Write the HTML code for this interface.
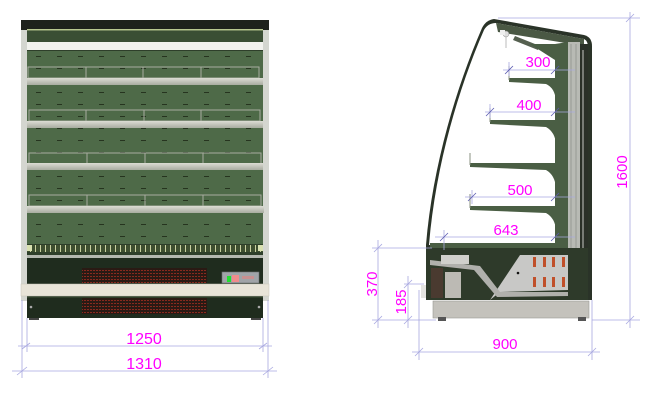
<!DOCTYPE html>
<html><head><meta charset="utf-8"><style>
html,body{margin:0;padding:0;background:#fff;}
svg{display:block;}
text{font-family:"Liberation Sans",sans-serif;fill:#ff00ff;}
</style></head><body>
<svg width="662" height="400" viewBox="0 0 662 400" xmlns="http://www.w3.org/2000/svg">
<defs>
<pattern id="slots" x="27" y="51" width="21" height="12" patternUnits="userSpaceOnUse">
<rect width="21" height="12" fill="#4e6a48"/>
<rect x="9" y="5" width="5" height="1" fill="#26341f"/>
</pattern>
<pattern id="grille" x="0" y="0" width="3" height="3" patternUnits="userSpaceOnUse">
<rect width="3" height="3" fill="#2a1a14"/>
<rect width="2" height="1" fill="#8a2a1e"/>
</pattern>
<pattern id="tick" x="0" y="0" width="5" height="8" patternUnits="userSpaceOnUse">
<rect width="5" height="8" fill="#3e4f30"/>
<rect x="0" y="0" width="1" height="8" fill="#c8d0a0"/>
</pattern>
<linearGradient id="shelf" x1="0" y1="0" x2="0" y2="1"><stop offset="0" stop-color="#dcdcd4"/><stop offset="1" stop-color="#a8aca0"/></linearGradient>
</defs>

<!-- FRONT VIEW -->
<rect x="21" y="20" width="248" height="281" fill="#d4d6d0"/>
<rect x="27" y="21" width="236" height="280" fill="#2e3f2a"/>
<rect x="21" y="20" width="248" height="10" fill="#1e221c"/>
<rect x="27" y="29" width="236" height="1.5" fill="#b8c890"/>
<rect x="27" y="31" width="236" height="11" fill="#3a4e34"/>
<rect x="27" y="42" width="236" height="8" fill="#f2f2ee"/>
<rect x="27" y="51" width="236" height="193" fill="url(#slots)"/>
<g fill="none" stroke="#a8aca0" stroke-width="1">
<rect x="28" y="67" width="231" height="11"/><line x1="86" y1="67" x2="86" y2="78"/><line x1="143" y1="67" x2="143" y2="78"/><line x1="201" y1="67" x2="201" y2="78"/>
<rect x="29" y="110" width="231" height="11"/><line x1="86" y1="110" x2="86" y2="121"/><line x1="144" y1="110" x2="144" y2="121"/><line x1="201" y1="110" x2="201" y2="121"/>
<rect x="29" y="153" width="232" height="11"/><line x1="87" y1="153" x2="87" y2="164"/><line x1="145" y1="153" x2="145" y2="164"/><line x1="203" y1="153" x2="203" y2="164"/>
<rect x="29" y="195" width="232" height="11"/><line x1="87" y1="195" x2="87" y2="206"/><line x1="145" y1="195" x2="145" y2="206"/><line x1="203" y1="195" x2="203" y2="206"/>
</g>
<rect x="27" y="78" width="236" height="7" fill="url(#shelf)"/>
<rect x="27" y="121" width="236" height="7" fill="url(#shelf)"/>
<rect x="27" y="163" width="236" height="7" fill="url(#shelf)"/>
<rect x="27" y="206" width="237" height="7" fill="url(#shelf)"/>
<rect x="27" y="245" width="236" height="7" fill="url(#tick)"/>
<rect x="27" y="245" width="5" height="6" fill="#d8e0b0"/><rect x="258" y="245" width="5" height="6" fill="#d8e0b0"/>
<rect x="27" y="255" width="236" height="3" fill="#b4b8b0"/>
<rect x="27" y="258" width="236" height="26" fill="#1f2c1e"/>
<rect x="82" y="268" width="125" height="15" fill="url(#grille)"/>
<rect x="222" y="272" width="37" height="11" fill="#a0a4a8" stroke="#6a6e70" stroke-width="0.6"/>
<rect x="227" y="276" width="4" height="6" fill="#20e030"/>
<rect x="232" y="275" width="7" height="7" fill="#f08c8c"/>
<rect x="242" y="276" width="12" height="3" fill="#c89090"/>
<rect x="21" y="284" width="248" height="12" fill="#e8e4d8" stroke="#c8c4b8" stroke-width="0.5"/>
<rect x="27" y="298" width="236" height="20" fill="#1f2c1e"/>
<rect x="82" y="298" width="125" height="16" fill="url(#grille)"/>
<circle cx="31" cy="307" r="1.3" fill="#aaa"/><circle cx="259" cy="307" r="1.3" fill="#aaa"/>
<rect x="29" y="318" width="10" height="2" fill="#444"/><rect x="251" y="318" width="10" height="2" fill="#444"/>

<g stroke="#a8a8e0" stroke-width="0.8" fill="none">
<line x1="22" y1="300" x2="22" y2="378"/><line x1="27" y1="318" x2="27" y2="352"/>
<line x1="263" y1="318" x2="263" y2="352"/><line x1="268" y1="300" x2="268" y2="378"/>
<line x1="18" y1="346" x2="272" y2="346"/>
<line x1="12" y1="371" x2="277" y2="371"/>
<line x1="22" y1="349" x2="30" y2="343"/><line x1="259" y1="349" x2="267" y2="343"/>
<line x1="17" y1="375" x2="27" y2="367"/><line x1="263" y1="375" x2="273" y2="367"/>
</g>
<text x="144" y="344" font-size="16" text-anchor="middle">1250</text>
<text x="144" y="369" font-size="16" text-anchor="middle">1310</text>

<!-- SIDE VIEW -->
<path d="M426,300 L426,245 C432,170 455,90 482,28 Q486,20 494,19 L584,35 Q592,37 592,46 L592,300 Z" fill="#2a3328"/>
<path d="M429,245 C435,170 457,92 484,30 Q488,23 496,23 L584,39 Q588,41 588,47 L588,245 Z" fill="#ffffff"/>
<path d="M496,23 L584,39 L584,46 L498,32 Z" fill="#4a5844"/>
<circle cx="506" cy="34" r="3" fill="#ddd" stroke="#888" stroke-width="0.5"/>
<rect x="500" y="30" width="5" height="5" fill="#eee"/>
<line x1="506" y1="37" x2="506" y2="48" stroke="#aaa" stroke-width="0.8"/>
<path d="M515,36 L540,46 L538,50 L513,40 Z" fill="#556050"/>
<path d="M530,44 L555,44 L555,60 Z" fill="#4a5e44"/>
<path d="M555,44 L568,42 L568,248 L555,248 Z" fill="#4a5e44"/>
<rect x="568" y="42" width="12" height="250" fill="#b8bab4"/>
<line x1="571" y1="44" x2="571" y2="292" stroke="#808480" stroke-width="0.6"/>
<line x1="576" y1="44" x2="576" y2="292" stroke="#808480" stroke-width="0.6"/>
<rect x="580" y="44" width="8" height="250" fill="#2a3028"/>
<rect x="582" y="50" width="2" height="240" fill="#787c76"/>
<g fill="#4a5e44">
<path d="M509,78 L556,78 L556,101 Q555,88 546,84 L509,82 Z"/>
<path d="M490,120 L556,120 L556,144 Q555,132 546,127 L490,124 Z"/>
<path d="M470,163 L556,163 L556,188 Q555,175 546,170 L470,167 Z"/>
<path d="M470,206 L556,206 L556,230 Q555,218 546,213 L470,210 Z"/>
</g>
<g stroke="#889080" stroke-width="1"><line x1="509" y1="66" x2="509" y2="80"/><line x1="490" y1="108" x2="490" y2="122"/><line x1="470" y1="153" x2="470" y2="165"/><line x1="470" y1="194" x2="470" y2="208"/></g>
<rect x="430" y="243" width="126" height="5" fill="#4a5e44"/>
<rect x="426" y="248" width="162" height="52" fill="#2e3a2a"/>
<path d="M490,300 L520,255 L568,255 L568,290 L500,292 Z" fill="#c8c8c6"/>
<path d="M430,260 L480,266 L500,292 L568,292 L568,296 L497,297 L474,270 L430,265 Z" fill="#b0b0ac"/>
<rect x="441" y="255" width="28" height="9" fill="#d0d0cc"/>
<rect x="431" y="268" width="12" height="30" fill="#4a3a30"/>
<rect x="445" y="272" width="16" height="26" fill="#bcbab4"/>
<g fill="#c0502a">
<rect x="533" y="257" width="3" height="10"/><rect x="543" y="257" width="3" height="10"/><rect x="552" y="257" width="3" height="10"/><rect x="562" y="257" width="3" height="10"/>
<rect x="533" y="277" width="3" height="10"/><rect x="543" y="277" width="3" height="10"/><rect x="552" y="277" width="3" height="10"/><rect x="562" y="277" width="3" height="10"/>
</g>
<circle cx="518" cy="273" r="1.3" fill="#111"/>
<rect x="421" y="285" width="5" height="13" fill="#e4e4e0"/>
<rect x="433" y="301" width="156" height="17" fill="#c4c2bc" stroke="#9a9894" stroke-width="0.6"/>
<rect x="438" y="317" width="8" height="4" fill="#555"/><rect x="578" y="317" width="8" height="4" fill="#555"/>

<g stroke="#a8a8e0" stroke-width="0.8" fill="none">
<line x1="498" y1="18" x2="640" y2="18"/>
<line x1="592" y1="320" x2="640" y2="320"/>
<line x1="630" y1="12" x2="630" y2="328"/>
<line x1="626" y1="22" x2="634" y2="14"/><line x1="626" y1="324" x2="634" y2="316"/>
<line x1="372" y1="248" x2="432" y2="248"/>
<line x1="372" y1="320" x2="436" y2="320"/>
<line x1="378" y1="240" x2="378" y2="328"/>
<line x1="374" y1="252" x2="382" y2="244"/><line x1="374" y1="324" x2="382" y2="316"/>
<line x1="404" y1="284" x2="424" y2="284"/>
<line x1="408" y1="276" x2="408" y2="328"/>
<line x1="404" y1="288" x2="412" y2="280"/><line x1="404" y1="324" x2="412" y2="316"/>
<line x1="419" y1="290" x2="419" y2="360"/><line x1="592" y1="300" x2="592" y2="360"/>
<line x1="412" y1="352" x2="600" y2="352"/>
<line x1="415" y1="356" x2="423" y2="348"/><line x1="588" y1="356" x2="596" y2="348"/>
<line x1="503" y1="70" x2="575" y2="70"/><line x1="509" y1="62" x2="509" y2="76"/>
<line x1="485" y1="112" x2="575" y2="112"/><line x1="490" y1="104" x2="490" y2="118"/>
<line x1="465" y1="197" x2="575" y2="197"/><line x1="472" y1="190" x2="472" y2="204"/>
<line x1="435" y1="237" x2="575" y2="237"/><line x1="444" y1="230" x2="444" y2="250"/>
</g>
<g stroke="#5a5ab0" stroke-width="0.8">
<line x1="505" y1="74" x2="513" y2="66"/><line x1="551" y1="74" x2="559" y2="66"/>
<line x1="486" y1="116" x2="494" y2="108"/><line x1="551" y1="116" x2="559" y2="108"/>
<line x1="468" y1="201" x2="476" y2="193"/><line x1="551" y1="201" x2="559" y2="193"/>
<line x1="440" y1="241" x2="448" y2="233"/><line x1="551" y1="241" x2="559" y2="233"/>
</g>
<text x="538" y="67" font-size="15" text-anchor="middle">300</text>
<text x="529" y="110" font-size="15" text-anchor="middle">400</text>
<text x="520" y="195" font-size="15" text-anchor="middle">500</text>
<text x="506" y="235" font-size="15" text-anchor="middle">643</text>
<text x="505" y="349" font-size="15" text-anchor="middle">900</text>
<text transform="translate(627,172) rotate(-90)" font-size="15" text-anchor="middle">1600</text>
<text transform="translate(377,284) rotate(-90)" font-size="15" text-anchor="middle">370</text>
<text transform="translate(406,302) rotate(-90)" font-size="15" text-anchor="middle">185</text>
</svg>
</body></html>
